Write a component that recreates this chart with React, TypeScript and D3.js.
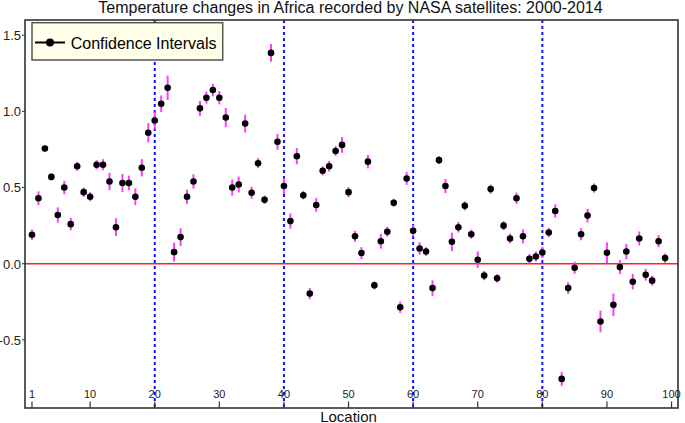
import React from "react";
import * as d3 from "d3";

const title = "Temperature changes in Africa recorded by NASA satellites: 2000-2014";
const xLabel = "Location";
const legendLabel = "Confidence Intervals";

const values: number[] = [
  0.19, 0.43, 0.756, 0.57, 0.32, 0.5, 0.26, 0.64, 0.47, 0.44,
  0.65, 0.65, 0.54, 0.24, 0.53, 0.53, 0.44, 0.63, 0.86, 0.94,
  1.05, 1.155, 0.076, 0.175, 0.44, 0.54, 1.02, 1.09, 1.14, 1.09,
  0.96, 0.5, 0.52, 0.92, 0.466, 0.66, 0.42, 1.384, 0.8, 0.51,
  0.28, 0.706, 0.45, -0.196, 0.386, 0.61, 0.64, 0.74, 0.78, 0.47,
  0.18, 0.07, 0.67, -0.142, 0.148, 0.21, 0.4, -0.286, 0.56, 0.217,
  0.1, 0.08, -0.16, 0.68, 0.51, 0.144, 0.24, 0.38, 0.194, 0.026,
  -0.078, 0.49, -0.096, 0.25, 0.166, 0.43, 0.18, 0.033, 0.048, 0.074,
  0.205, 0.346, -0.756, -0.16, -0.026, 0.194, 0.316, 0.497, -0.379, 0.072,
  -0.27, -0.022, 0.08, -0.118, 0.166, -0.072, -0.111, 0.148, 0.037,
];

const errors: number[] = [
  0.034, 0.045, 0.02, 0.022, 0.05, 0.044, 0.041, 0.03, 0.03, 0.03,
  0.03, 0.036, 0.057, 0.058, 0.06, 0.048, 0.055, 0.057, 0.063, 0.058,
  0.055, 0.08, 0.062, 0.058, 0.046, 0.047, 0.049, 0.039, 0.041, 0.044,
  0.063, 0.053, 0.052, 0.058, 0.039, 0.033, 0.028, 0.058, 0.052, 0.052,
  0.05, 0.053, 0.028, 0.037, 0.045, 0.03, 0.035, 0.033, 0.051, 0.033,
  0.036, 0.039, 0.044, 0.026, 0.049, 0.033, 0.026, 0.037, 0.042, 0.038,
  0.041, 0.028, 0.051, 0.026, 0.046, 0.06, 0.035, 0.03, 0.03, 0.054,
  0.03, 0.03, 0.027, 0.03, 0.032, 0.037, 0.046, 0.03, 0.033, 0.036,
  0.03, 0.044, 0.046, 0.038, 0.04, 0.04, 0.045, 0.03, 0.071, 0.068,
  0.074, 0.047, 0.051, 0.051, 0.046, 0.039, 0.033, 0.04, 0.03,
];

const xTicks: number[] = [1, 10, 20, 30, 40, 50, 60, 70, 80, 90, 100];
const yTicks: number[] = [-0.5, 0.0, 0.5, 1.0, 1.5];
const dividers: number[] = [20, 40, 60, 80];

const W = 685;
const H = 423;
const left = 25;
const right = 678;
const top = 20;
const bottom = 408;
const font = "'Liberation Sans', Arial, sans-serif";

export default function App() {
  const x = d3.scaleLinear().domain([-0.08, 101]).range([left, right]);
  const y = d3.scaleLinear().domain([-0.947, 1.6]).range([bottom, top]);
  const pts = values.map((v, i) => ({ i: i + 1, v, e: errors[i] }));

  return (
    <svg
      width={W}
      height={H}
      style={{ position: "absolute", left: 0, top: 0, background: "#fff" }}
      fontFamily={font}
    >
      <rect x={0} y={0} width={W} height={H} fill="#fff" />
      <text x={350.5} y={13} textAnchor="middle" fontSize={16} fill="#111">
        {title}
      </text>

      {dividers.map((d) => (
        <line
          key={d}
          x1={x(d)}
          x2={x(d)}
          y1={top}
          y2={bottom}
          stroke="#1010ff"
          strokeWidth={2}
          strokeDasharray="3,3"
        />
      ))}

      <line x1={left} x2={right} y1={y(0)} y2={y(0)} stroke="#ff2020" strokeWidth={1.5} />

      {pts.map((p) => (
        <line
          key={"e" + p.i}
          x1={x(p.i)}
          x2={x(p.i)}
          y1={y(p.v - p.e)}
          y2={y(p.v + p.e)}
          stroke="#ff3cff"
          strokeWidth={2}
        />
      ))}
      {pts.map((p) => (
        <circle key={"c" + p.i} cx={x(p.i)} cy={y(p.v)} r={3.3} fill="#000" />
      ))}

      <rect
        x={left}
        y={top}
        width={right - left}
        height={bottom - top}
        fill="none"
        stroke="#333"
        strokeWidth={1.6}
      />

      {yTicks.map((t) => (
        <g key={"y" + t}>
          <line x1={22} x2={left} y1={y(t)} y2={y(t)} stroke="#333" strokeWidth={1} />
          <text x={21} y={y(t) + 4.8} textAnchor="end" fontSize={13} fill="#222">
            {t.toFixed(1)}
          </text>
        </g>
      ))}

      {xTicks.map((t) => (
        <g key={"x" + t}>
          <line x1={x(t)} x2={x(t)} y1={bottom - 6.5} y2={bottom} stroke="#333" strokeWidth={1.2} />
          <text x={x(t)} y={397.5} textAnchor="middle" fontSize={11} fill="#222">
            {t}
          </text>
        </g>
      ))}

      <text x={348.5} y={421.5} textAnchor="middle" fontSize={15} fill="#111">
        {xLabel}
      </text>

      <g>
        <rect x={32} y={22.7} width={190.7} height={37.3} fill="#ffffea" stroke="#555" strokeWidth={1.5} />
        <line x1={35} x2={65} y1={42.5} y2={42.5} stroke="#000" strokeWidth={2} />
        <circle cx={50} cy={42.5} r={4} fill="#000" />
        <text x={70.7} y={49} fontSize={16} fill="#000">
          {legendLabel}
        </text>
      </g>
    </svg>
  );
}
